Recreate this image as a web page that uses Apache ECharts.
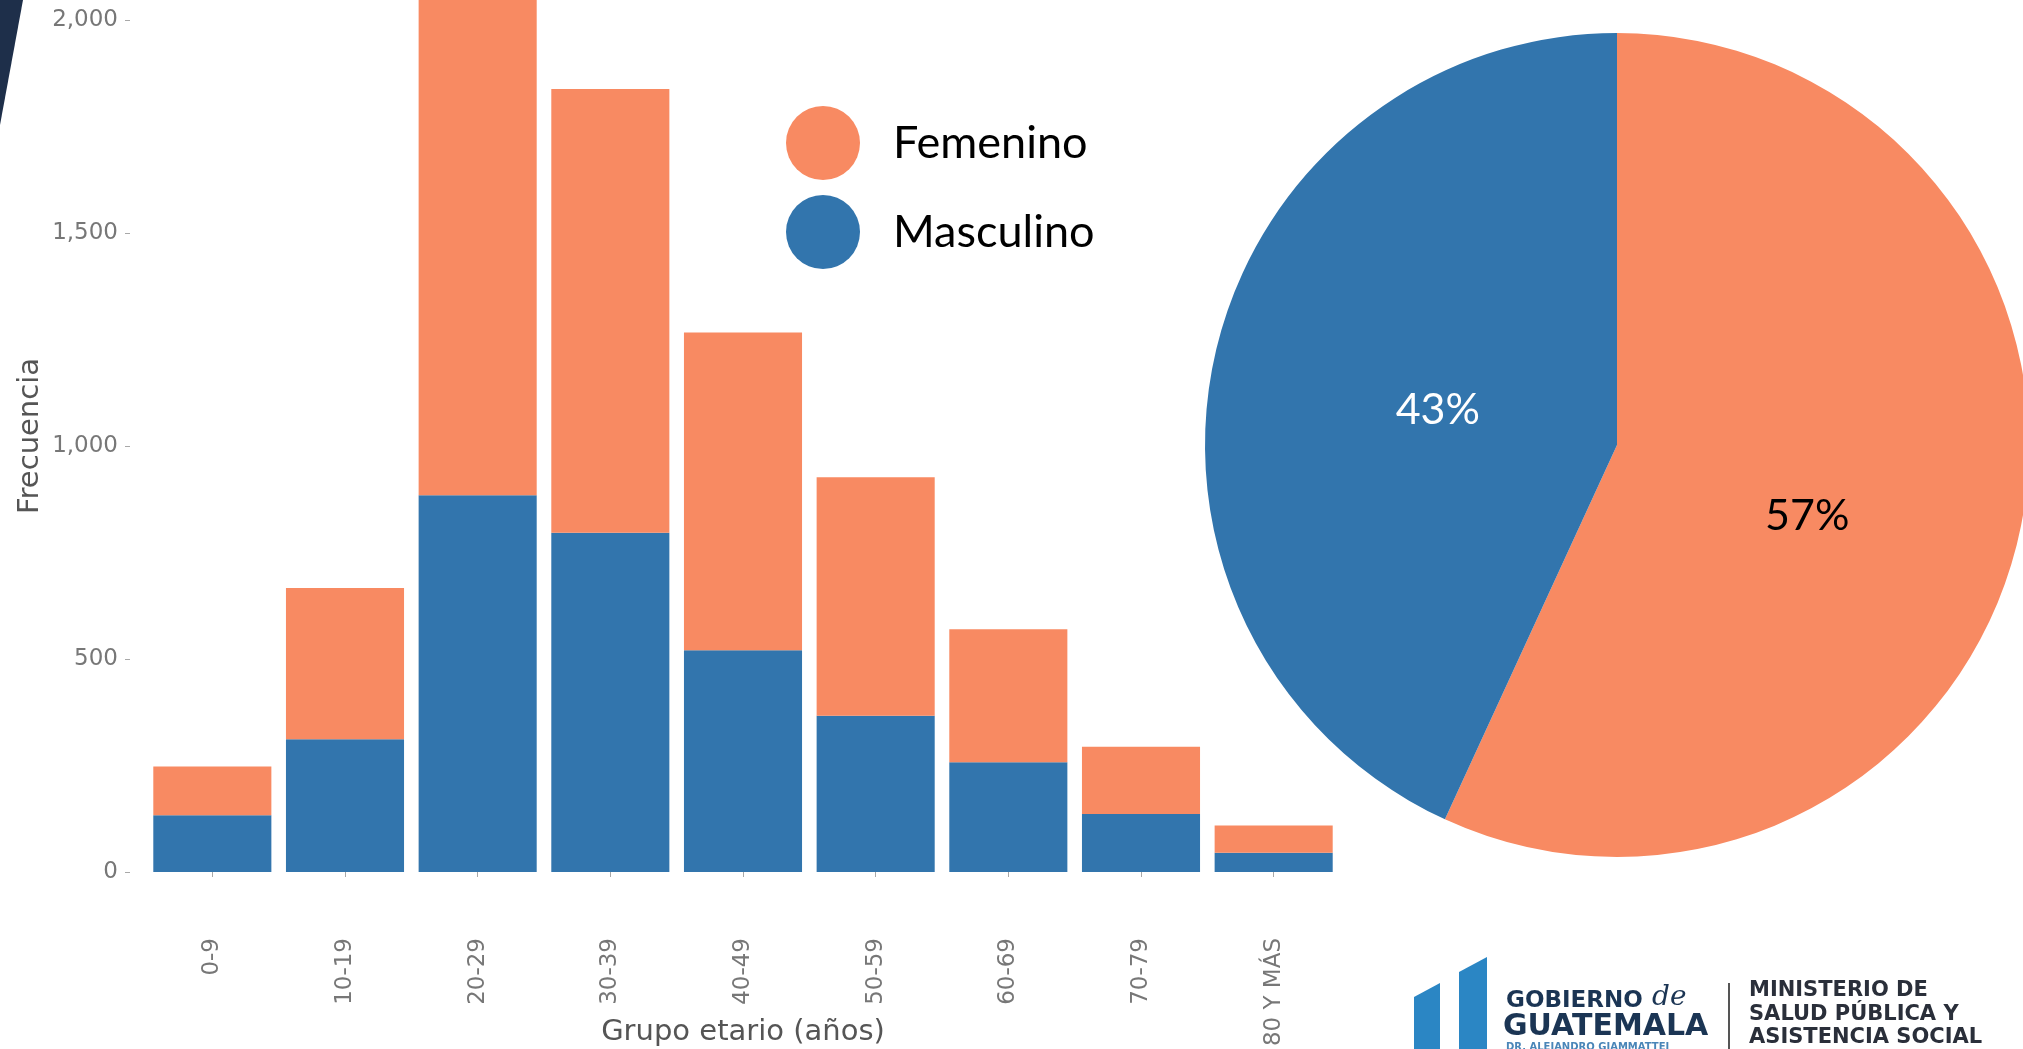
<!DOCTYPE html>
<html>
<head>
<meta charset="utf-8">
<script src="https://cdn.jsdelivr.net/npm/echarts@6/dist/echarts.min.js"></script>
<style>html,body{margin:0;padding:0;background:#fff;}#c{width:2023px;height:1049px;}</style>
</head>
<body>
<div id="c"></div>
<script>
const categories = ['0-9','10-19','20-29','30-39','40-49','50-59','60-69','70-79','80 Y MÁS'];
const masculino = [133, 312, 885, 797, 521, 367, 258, 136, 45];
const femenino = [115, 355, 1200, 1042, 746, 560, 312, 158, 64];
const seriesNames = ['Femenino', 'Masculino'];
const yTicks = [0, 500, 1000, 1500, 2000];

const ORANGE = '#F88A62';
const BLUE = '#3275AD';
const sum = a => a.reduce((s, v) => s + v, 0);

const chart = echarts.init(document.getElementById('c'), null, {renderer: 'canvas'});
chart.setOption({
  backgroundColor: '#ffffff',
  animation: false,
  legend: {
    data: seriesNames,
    orient: 'vertical',
    left: 781, top: 101,
    icon: 'circle',
    itemWidth: 130, itemHeight: 74, itemGap: 15,
    selectedMode: false,
    textStyle: {fontFamily: 'Lato', fontSize: 45, color: '#000'}
  },
  grid: {left: 146, right: 683, top: 0, bottom: 177, containLabel: false, outerBoundsMode: 'none'},
  xAxis: {
    type: 'category',
    data: categories,
    offset: 48,
    axisLine: {show: false},
    axisTick: {show: true, alignWithLabel: true, length: 5, lineStyle: {color: '#a8a8a8'}},
    axisLabel: {rotate: 90, margin: 18, fontFamily: 'DejaVu Sans', fontSize: 23, color: '#777'},
    name: 'Grupo etario (años)',
    nameLocation: 'middle',
    nameGap: 98,
    nameMoveOverlap: false,
    nameTextStyle: {fontFamily: 'DejaVu Sans', fontSize: 29, color: '#555'}
  },
  yAxis: {
    type: 'value',
    min: 0, max: 2048, interval: 500,
    offset: 16,
    axisLine: {show: false},
    axisTick: {show: true, length: 5, lineStyle: {color: '#a8a8a8'}},
    splitLine: {show: false},
    axisLabel: {
      margin: 12, showMaxLabel: false,
      fontFamily: 'DejaVu Sans', fontSize: 23, color: '#777',
      formatter: v => yTicks.indexOf(v) >= 0 ? v.toLocaleString('en-US') : ''
    },
    name: 'Frecuencia',
    nameLocation: 'middle',
    nameGap: 85,
    nameMoveOverlap: false,
    nameTextStyle: {fontFamily: 'DejaVu Sans', fontSize: 29, color: '#555'}
  },
  series: [
    {name: 'Masculino', type: 'bar', stack: 'g', data: masculino, barCategoryGap: '11%',
     itemStyle: {color: BLUE}},
    {name: 'Femenino', type: 'bar', stack: 'g', data: femenino, barCategoryGap: '11%',
     itemStyle: {color: ORANGE}},
    {
      name: 'Sexo', type: 'pie',
      center: [1617, 445], radius: 412,
      startAngle: 90, clockwise: true,
      percentPrecision: 0,
      label: {show: true, position: 'inside', formatter: '{d}%', fontFamily: 'Lato', fontSize: 43},
      labelLine: {show: false},
      emphasis: {disabled: true},
      data: [
        {name: 'Femenino', value: sum(femenino), itemStyle: {color: ORANGE}, label: {color: '#000', offset: [-14, 26]}},
        {name: 'Masculino', value: sum(masculino), itemStyle: {color: BLUE}, label: {color: '#fff', offset: [25, 10]}}
      ]
    }
  ],
  graphic: [
    {type: 'polygon', shape: {points: [[0,0],[23,0],[0,125]]}, style: {fill: '#1e2f4a'}},
    {type: 'polygon', shape: {points: [[1414,997],[1440,983],[1440,1049],[1414,1049]]}, style: {fill: '#2b86c4'}},
    {type: 'polygon', shape: {points: [[1459,972],[1487,957],[1487,1049],[1459,1049]]}, style: {fill: '#2b86c4'}},
    {type: 'text', x: 1506, y: 1001, style: {text: 'GOBIERNO', font: 'bold 23px "DejaVu Sans"', fill: '#1b3554', textAlign: 'left', textVerticalAlign: 'middle'}},
    {type: 'text', x: 1652, y: 998, style: {text: 'de', font: 'italic 28px "DejaVu Serif"', fill: '#1b3554', textAlign: 'left', textVerticalAlign: 'middle'}},
    {type: 'text', x: 1503, y: 1027, style: {text: 'GUATEMALA', font: 'bold 30px "DejaVu Sans"', fill: '#1b3554', textAlign: 'left', textVerticalAlign: 'middle'}},
    {type: 'text', x: 1506, y: 1047, style: {text: 'DR. ALEJANDRO GIAMMATTEI', font: 'bold 10px "DejaVu Sans"', fill: '#4a86b8', textAlign: 'left', textVerticalAlign: 'middle'}},
    {type: 'line', shape: {x1: 1729, y1: 983, x2: 1729, y2: 1049}, style: {stroke: '#555', lineWidth: 2}},
    {type: 'text', x: 1749, y: 991, style: {text: 'MINISTERIO DE', font: 'bold 21px "DejaVu Sans"', fill: '#2a2f3a', textAlign: 'left', textVerticalAlign: 'middle'}},
    {type: 'text', x: 1749, y: 1015, style: {text: 'SALUD PÚBLICA Y', font: 'bold 21px "DejaVu Sans"', fill: '#2a2f3a', textAlign: 'left', textVerticalAlign: 'middle'}},
    {type: 'text', x: 1749, y: 1038, style: {text: 'ASISTENCIA SOCIAL', font: 'bold 21px "DejaVu Sans"', fill: '#2a2f3a', textAlign: 'left', textVerticalAlign: 'middle'}}
  ]
});
</script>
</body>
</html>
